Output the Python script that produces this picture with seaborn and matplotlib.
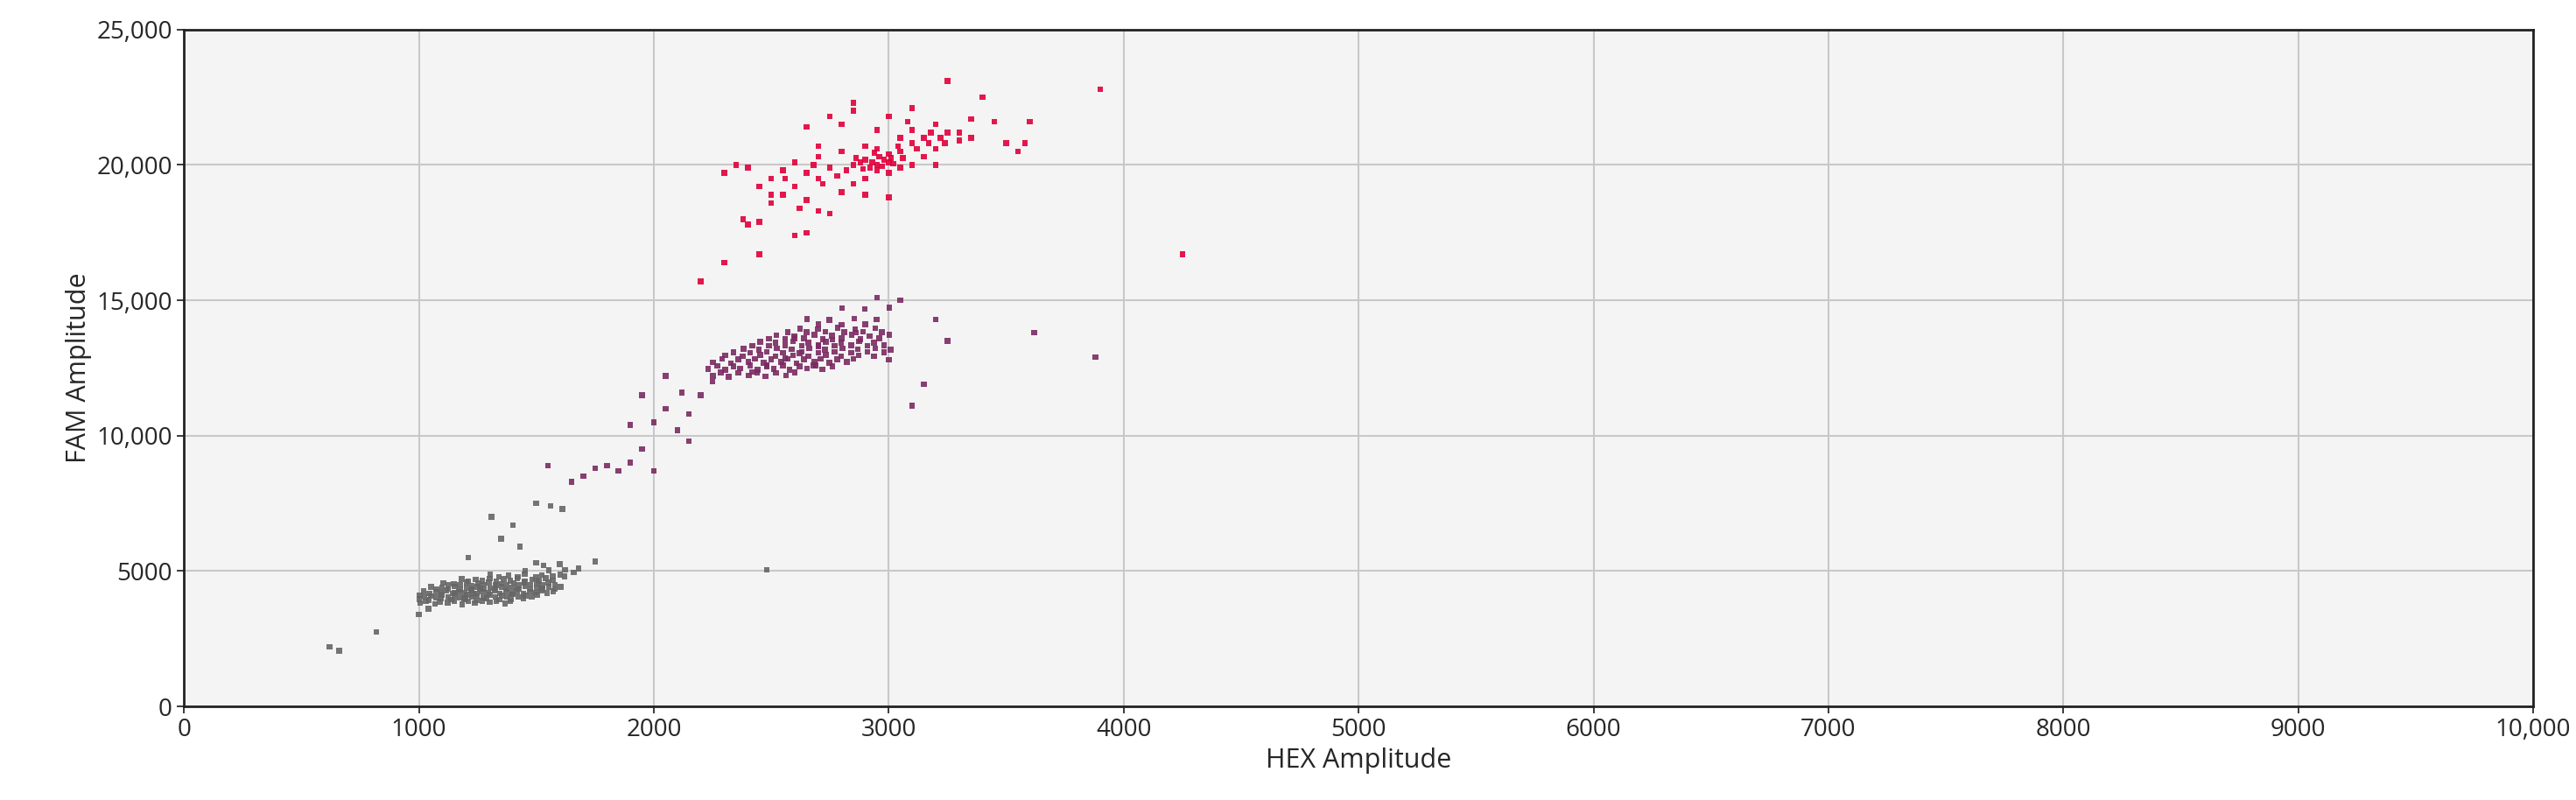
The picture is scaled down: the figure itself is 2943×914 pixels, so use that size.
import matplotlib
matplotlib.use("Agg")
import matplotlib.pyplot as plt
import seaborn as sns
import pandas as pd
from matplotlib.ticker import FuncFormatter

gray_pts = [
 (620,2200),(660,2050),(820,2750),(1000,3400),(1040,3600),(1210,5500),(1500,5300),(1600,5250),(1750,5350),(2480,5050),
 (1350,6200),(1400,6700),(1500,7500),(1560,7400),(1310,7000),(1610,7300),(1430,5900),
 (1005,3810),(1068,3790),(1122,3830),(1185,3770),(1238,3820),(1302,3850),(1366,3800),
 (1002,3960),(1043,3930),(1094,3980),(1138,3940),(1193,3970),(1245,3920),(1288,3990),(1343,3950),(1392,3970),(1446,3990),
 (1003,4110),(1052,4080),(1097,4130),(1153,4090),(1204,4120),(1248,4070),(1302,4130),(1353,4100),(1398,4140),(1455,4090),(1503,4120),
 (1021,4260),(1074,4230),(1118,4280),(1172,4240),(1224,4270),(1268,4230),(1323,4280),(1371,4250),(1418,4260),(1473,4230),(1522,4290),(1572,4260),
 (1052,4410),(1098,4380),(1153,4430),(1203,4390),(1249,4420),(1304,4370),(1352,4420),(1398,4400),(1453,4430),(1501,4380),(1553,4420),(1604,4410),
 (1104,4560),(1148,4530),(1203,4570),(1252,4540),(1298,4580),(1352,4530),(1404,4560),(1449,4580),(1503,4540),(1552,4580),
 (1182,4710),(1243,4690),(1302,4730),(1361,4700),(1419,4720),(1482,4690),(1541,4740),(1620,4800),
 (1303,4860),(1382,4840),(1451,4880),(1523,4850),(1602,4870),(1660,4950),
 (1452,5010),(1553,5030),(1622,5050),(1680,5100),(1530,5200),(1200,4000),(1260,4350),(1150,4200),(1330,4480),(1230,4150),
 (1030,3880),(1090,3870),(1150,3880),(1210,3880),(1270,3890),(1330,3880),(1390,3880),
 (1025,4040),(1075,4030),(1125,4040),(1175,4030),(1225,4040),(1275,4030),(1325,4050),(1375,4040),(1425,4040),(1480,4050),
 (1045,4180),(1095,4190),(1145,4170),(1195,4190),(1245,4180),(1295,4190),(1345,4180),(1395,4190),(1445,4180),(1495,4200),(1545,4190),
 (1075,4330),(1125,4340),(1175,4320),(1225,4340),(1275,4330),(1325,4340),(1375,4330),(1425,4340),(1475,4330),(1525,4350),(1580,4340),
 (1125,4480),(1175,4490),(1225,4470),(1275,4490),(1325,4480),(1375,4490),(1425,4480),(1475,4490),(1525,4480),(1580,4500),
 (1210,4630),(1270,4640),(1330,4620),(1390,4640),(1450,4630),(1510,4640),(1570,4660),(1340,4780),(1420,4790),(1500,4770),(1570,4800),
]
purple_pts = [
 (1700,8500),(1750,8800),(1800,8900),(1850,8700),(1900,9000),(1950,9500),(2000,8700),(2000,10500),(2050,11000),(2100,10200),
 (2150,9800),(2200,11500),(1950,11500),(2050,12200),(2250,12000),(1550,8900),(1650,8300),(1900,10400),(2150,10800),(2120,11600),
 (3100,11100),(3150,11900),(3620,13800),(3880,12900),(3200,14300),(3250,13500),(3000,12800),(3050,15000),(2950,15100),
 (2252,12210),(2318,12180),(2404,12230),(2476,12190),(2563,12220),
 (2232,12460),(2303,12430),(2368,12480),(2442,12440),(2511,12470),(2577,12430),(2652,12480),(2718,12450),
 (2252,12710),(2328,12680),(2402,12730),(2468,12690),(2543,12720),(2607,12680),(2683,12730),(2748,12690),(2822,12720),
 (2303,12960),(2378,12930),(2452,12980),(2518,12940),(2593,12970),(2657,12930),(2733,12980),(2798,12940),(2872,12970),(2938,12930),
 (2382,13210),(2448,13180),(2523,13230),(2588,13190),(2662,13220),(2728,13180),(2803,13230),(2868,13190),(2943,13220),(3008,13180),
 (2452,13460),(2518,13430),(2593,13480),(2658,13440),(2733,13470),(2798,13430),(2873,13480),(2938,13440),
 (2522,13710),(2598,13680),(2683,13730),(2758,13690),(2843,13720),(2918,13680),(3002,13730),
 (2622,13960),(2698,13930),(2783,13980),(2858,13940),(2942,13970),
 (2652,14310),(2748,14280),(2853,14330),(2948,14290),(2802,14710),(2898,14680),(3003,14730),
 (2620,13050),(2700,13300),(2560,12850),(2760,13550),(2480,12600),(2860,13800),(2420,12350),(2680,12600),(2600,13600),
 (2285,12330),(2360,12320),(2440,12330),(2520,12320),(2600,12340),
 (2270,12580),(2340,12570),(2410,12590),(2480,12570),(2550,12590),(2620,12570),(2690,12590),(2760,12570),
 (2290,12830),(2360,12820),(2430,12840),(2500,12820),(2570,12840),(2640,12820),(2710,12840),(2780,12820),(2850,12840),
 (2340,13080),(2410,13070),(2480,13090),(2550,13070),(2630,13090),(2700,13070),(2770,13090),(2840,13070),(2910,13090),(2980,13080),
 (2420,13330),(2490,13320),(2560,13340),(2630,13320),(2700,13340),(2770,13320),(2840,13340),(2910,13320),(2980,13340),
 (2490,13580),(2560,13570),(2640,13590),(2720,13570),(2800,13590),(2880,13570),(2960,13590),
 (2570,13830),(2650,13820),(2730,13840),(2810,13820),(2890,13840),(2970,13820),(2700,14120),(2800,14100),(2900,14120),
]
red_pts = [
 (2200,15700),(2300,16400),(2450,16700),(2400,17800),(2380,18000),(2500,18600),(2600,17400),(2650,17500),(2700,18300),(2750,18200),
 (2450,19200),(2500,19500),(2550,19800),(2600,20100),(2650,19700),(2700,20300),(2750,19900),(2800,20500),(2850,20000),(2900,20200),
 (2950,19800),(3000,20100),(3050,20500),(2900,19500),(2950,20600),(3000,19700),(2850,19300),(2800,19000),(2900,18900),(3000,18800),
 (3100,20800),(3150,21000),(3200,20600),(3250,21200),(3300,20900),(3200,21500),(3100,21300),(3050,21000),(3150,20300),(3000,21800),
 (3100,22100),(3250,23100),(3400,22500),(3350,21700),(3450,21600),(3500,20800),(3600,21600),(3580,20800),(3550,20500),(3900,22800),
 (4250,16700),(2650,21400),(2700,20700),(2800,21500),(2850,22000),(2850,22300),(2950,21300),(2750,21800),(2600,19200),(2550,18900),
 (2450,17900),(2500,18900),(2650,18700),(2700,19500),(2900,20700),(2950,20000),(3000,20400),(2980,20200),(2920,19900),(3050,19900),
 (3100,20000),(3200,20000),(3300,21200),(3350,21000),(2400,19900),(2350,20000),(2300,19700),(2960,20300),(3020,20050),(2880,20100),
 (2930,20100),(2970,19950),(3010,20250),(2890,19850),(2940,20450),(2860,20250),(3060,20250),(3120,20600),(3170,20800),(3220,21000),
 (2780,19600),(2820,19800),(2720,19300),(3080,21600),(3180,21200),(3240,20800),(2620,18400),(2560,19500),(2680,20000),(3040,20700),
]

gray_x = [p[0] for p in gray_pts]; gray_y = [p[1] for p in gray_pts]
purple_x = [p[0] for p in purple_pts]; purple_y = [p[1] for p in purple_pts]
red_x = [p[0] for p in red_pts]; red_y = [p[1] for p in red_pts]

df = pd.concat([
    pd.DataFrame({"x": gray_x, "y": gray_y, "g": "neg"}),
    pd.DataFrame({"x": purple_x, "y": purple_y, "g": "mid"}),
    pd.DataFrame({"x": red_x, "y": red_y, "g": "pos"}),
])

sns.set_theme(style="whitegrid")
plt.rcParams['font.family'] = ['Open Sans', 'DejaVu Sans']
fig = plt.figure(figsize=(29.43, 9.14), dpi=100)
ax = fig.add_axes([0.0714, 0.117, 0.912, 0.846])
ax.set_facecolor("#f4f4f4")
sns.scatterplot(data=df, x="x", y="y", hue="g", palette={"neg": "#666666", "mid": "#7b2a62", "pos": "#e0003a"},
                marker="s", s=22, linewidth=0, alpha=0.9, legend=False, ax=ax)
ax.set_xlim(0, 10000); ax.set_ylim(0, 25000)
ax.set_xticks(range(0, 10001, 1000)); ax.set_yticks(range(0, 25001, 5000))
fmt = lambda v, p: f"{int(v):,}" if v >= 10000 else f"{int(v)}"
ax.xaxis.set_major_formatter(FuncFormatter(fmt)); ax.yaxis.set_major_formatter(FuncFormatter(fmt))
ax.grid(True, color="#c8c8c8", linewidth=1.5)
for s in ax.spines.values():
    s.set_visible(True); s.set_color("#222222"); s.set_linewidth(2)
ax.tick_params(labelsize=20, length=6, color="#222222", bottom=True, left=True)
ax.set_xlabel("HEX Amplitude", fontsize=22)
ax.set_ylabel("FAM Amplitude", fontsize=22)
fig.savefig("out.png", dpi=100)
